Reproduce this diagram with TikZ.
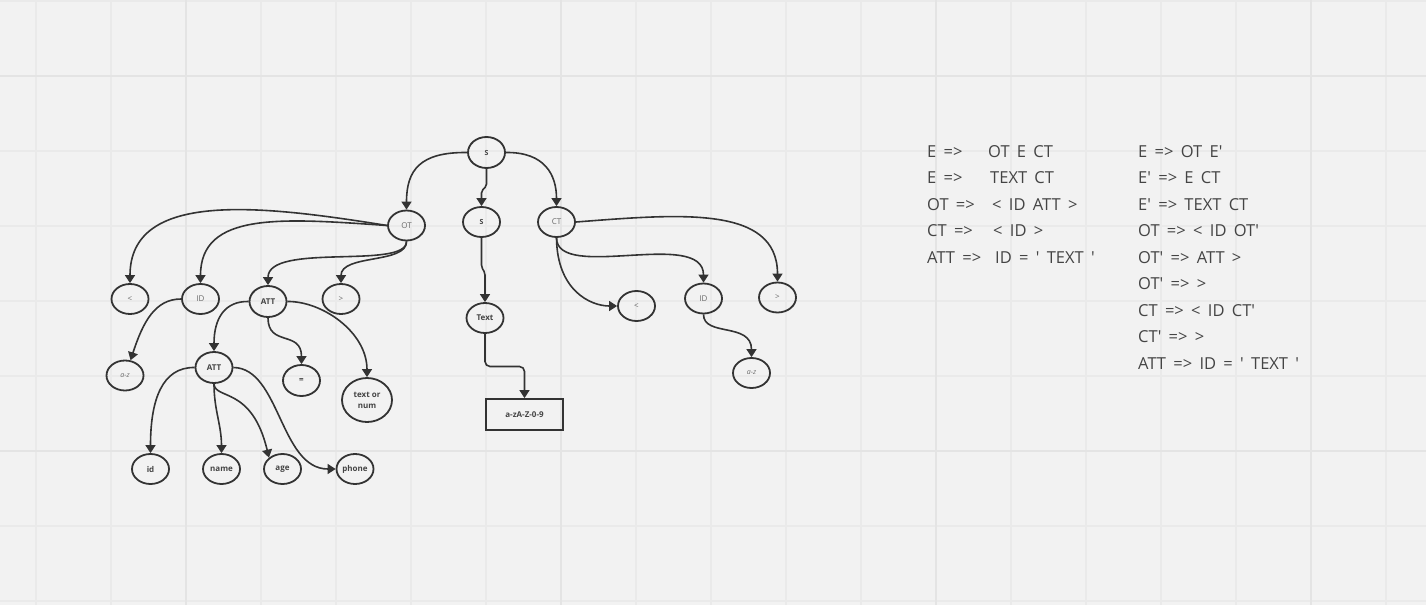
\documentclass[tikz,border=0pt]{standalone}
\usepackage{fontspec}
\setmainfont{Open Sans}[Ligatures=TeXOff]
\usetikzlibrary{shapes.geometric,arrows.meta}
\definecolor{bg}{HTML}{F2F2F2}
\definecolor{gminor}{HTML}{EAEAEA}
\definecolor{gmajor}{HTML}{E4E4E4}
\definecolor{ink}{HTML}{333333}
\definecolor{lbl}{HTML}{6A6A6A}
\definecolor{lblb}{HTML}{444444}
\definecolor{ptxt}{HTML}{444444}
\newcommand\prodfont{\fontsize{16.5}{18}\selectfont\spaceskip=7.3pt\relax}
\tikzset{
  nd/.style={ellipse,draw=ink,line width=1.8pt,minimum width=37pt,minimum height=30pt,inner sep=0pt,
    font=\fontsize{8}{9}\selectfont,text=lbl},
  ndb/.style={nd,font=\fontsize{8}{10}\selectfont\bfseries,text=lblb,align=center},
  edge/.style={draw=ink,line width=1.6pt,-{Triangle[length=8pt,width=10pt]}},
  ptext/.style={anchor=base west,inner sep=0pt,font=\prodfont,text=ptxt}
}
\begin{document}
\begin{tikzpicture}[x=1pt,y=-1pt]
\useasboundingbox (0,0) rectangle (1426,605);
\fill[bg] (0,0) rectangle (1426,605);
% grid
\foreach \x in {36,111,261,336,411,486,636,711,786,861,1011,1086,1161,1236,1386}
  \draw[gminor,line width=1.2pt] (\x,0) -- (\x,605);
\foreach \y in {1,151,226,301,376,526,601}
  \draw[gminor,line width=1.2pt] (0,\y) -- (1426,\y);
\foreach \x in {186,561,936,1311}
  \draw[gmajor,line width=1.8pt] (\x,0) -- (\x,605);
\foreach \y in {76,451}
  \draw[gmajor,line width=1.8pt] (0,\y) -- (1426,\y);

% nodes
\node[ndb,font=\fontsize{7}{8}\selectfont\bfseries,minimum height=31pt] (S) at (486.5,152.5) {S};
\node[nd] (OT) at (406.5,225.5) {OT};
\node[ndb,font=\fontsize{7}{8}\selectfont\bfseries] (S2) at (481.5,222) {S};
\node[nd] (CT) at (556.5,222) {CT};
\node[nd] (lt) at (130,299) {<};
\node[nd] (ID) at (200.5,299) {ID};
\node[ndb,minimum height=31pt] (ATT) at (268,301.5) {ATT};
\node[nd] (gt) at (341,299) {>};
\node[nd,font=\fontsize{7}{8}\selectfont\itshape] (az) at (125,375.5) {a-z};
\node[ndb,minimum height=31pt] (ATT2) at (214,367.5) {ATT};
\node[ndb,minimum height=31pt] (eq) at (301.5,380.5) {=};
\node[ndb,minimum width=50pt,minimum height=44pt] (ton) at (367,400) {text or\\[1pt]num};
\node[ndb] (id) at (150.5,469) {id};
\node[ndb] (name) at (221.5,469) {name};
\node[ndb] (age) at (282.5,469) {age};
\node[ndb] (phone) at (355,469) {phone};
\node[ndb] (Text) at (485,318) {Text};
\node[draw=ink,line width=1.8pt,minimum width=77pt,minimum height=31pt,inner sep=0pt,
  font=\fontsize{8}{9}\selectfont\bfseries,text=lblb] (rx) at (524.5,414.5) {a-zA-Z-0-9};
\node[nd] (lt2) at (636.5,306) {<};
\node[nd] (ID2) at (703.5,298.5) {ID};
\node[nd] (gt2) at (777.5,297.5) {>};
\node[nd,font=\fontsize{7}{8}\selectfont\itshape] (az2) at (751.5,373) {a-z};

% connectors
\draw[edge] (S.west) .. controls (420,152) and (406.5,170) .. (OT.north);
\draw[edge,rounded corners=2pt] (S.south) -- (486.5,186) -- (481.5,191) -- (S2.north);
\draw[edge] (S.east) .. controls (545,152) and (556.5,175) .. (CT.north);
\draw[edge] (OT.west) .. controls (260,205) and (130,190) .. (lt.north);
\draw[edge] (OT.west) .. controls (280,218) and (200.5,212) .. (ID.north);
\draw[edge] (OT.south) .. controls (407,270) and (268,242) .. (ATT.north);
\draw[edge] (OT.south) .. controls (407,264) and (341,254) .. (gt.north);
\draw[edge] (ID.west) .. controls (155,299) and (143,322) .. (az.70);
\draw[edge] (ATT.west) .. controls (225,301) and (214,318) .. (ATT2.north);
\draw[edge] (ATT.south) .. controls (268,347) and (301.5,330) .. (eq.north);
\draw[edge] (ATT.east) .. controls (322,301) and (367,332) .. (ton.north);
\draw[edge] (ATT2.west) .. controls (162,367) and (150.5,400) .. (id.north);
\draw[edge] (ATT2.south) .. controls (214,410) and (221.5,425) .. (name.north);
\draw[edge] (ATT2.south) .. controls (215,400) and (252,386) .. (age.140);
\draw[edge] (ATT2.east) .. controls (280,368) and (280,469) .. (phone.west);
\draw[edge,rounded corners=2pt] (S2.south) -- (481.5,267) -- (485,273) -- (Text.north);
\draw[edge,rounded corners=5pt] (Text.south) -- (485,366.5) -- (524.5,366.5) -- (rx.north);
\draw[edge] (CT.east) .. controls (680,214) and (777.5,205) .. (gt2.north);
\draw[edge] (CT.south) .. controls (557,282) and (703.5,228) .. (ID2.north);
\draw[edge] (CT.south) .. controls (557,290) and (590,306) .. (lt2.west);
\draw[edge] (ID2.south) .. controls (703.5,337) and (751.5,322) .. (az2.north);

% productions
\node[ptext] (l1a) at (927,157) {E =>};
\node[ptext] (l1b) at (988,157) {OT E CT};
\node[ptext] (l2a) at (927,183.5) {E =>};
\node[ptext] (l2b) at (990,183.5) {TEXT CT};
\node[ptext] (l3a) at (927,210) {OT =>};
\node[ptext] (l3b) at (992,210) {< ID ATT >};
\node[ptext] (l4a) at (927,236.7) {CT =>};
\node[ptext] (l4b) at (993,236.7) {< ID >};
\node[ptext] (l5a) at (927,263) {ATT =>};
\node[ptext] (l5b) at (995,263) {ID = ' TEXT '};
\node[ptext] (r1) at (1138,157) {E => OT E'};
\node[ptext] (r2) at (1138,183.5) {E' => E CT};
\node[ptext] (r3) at (1138,210) {E' => TEXT CT};
\node[ptext] (r4) at (1138,236.7) {OT => < ID OT'};
\node[ptext] (r5) at (1138,263) {OT' => ATT >};
\node[ptext] (r6) at (1138,289.7) {OT' => >};
\node[ptext] (r7) at (1138,316) {CT => < ID CT'};
\node[ptext] (r8) at (1138,342.7) {CT' => >};
\node[ptext] (r9) at (1138,369.7) {ATT => ID = ' TEXT '};
\end{tikzpicture}
\end{document}
